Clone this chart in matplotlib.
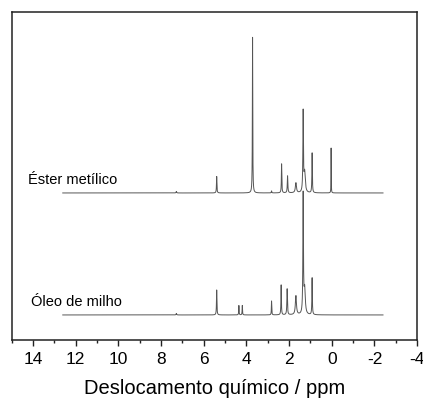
import numpy as np
import matplotlib as mpl
import matplotlib.pyplot as plt
from matplotlib.ticker import MultipleLocator

mpl.rc('font', family='Liberation Sans')
mpl.rcParams['axes.unicode_minus'] = False

# peak positions (ppm) and heights (arbitrary units)
ester_ppm = [7.28, 5.39, 3.71, 2.82, 2.35, 2.07, 1.68, 1.34, 1.27, 0.92, 0.03]
ester_h = [1.5, 16.5, 156.0, 2.0, 29.0, 17.0, 10.0, 80.0, 20.0, 40.0, 45.0]
ester_w = [0.015, 0.012, 0.010, 0.012, 0.012, 0.015, 0.03, 0.015, 0.035, 0.012, 0.006]

oleo_ppm = [7.28, 5.39, 4.35, 4.19, 2.82, 2.37, 2.09, 1.68, 1.34, 1.27, 0.92]
oleo_h = [1.5, 25.0, 9.5, 9.5, 14.0, 30.0, 26.0, 19.0, 119.0, 25.0, 37.0]
oleo_w = [0.015, 0.012, 0.010, 0.010, 0.010, 0.012, 0.015, 0.03, 0.015, 0.035, 0.012]

ester_offset = 147
oleo_offset = 25

labels = ['Éster metílico', 'Óleo de milho']

ppm = np.linspace(12.6, -2.4, 8000)

def spectrum(pos, hgt, wid):
    y = np.zeros_like(ppm)
    for p, h, w in zip(pos, hgt, wid):
        y += h / (1 + ((ppm - p) / w) ** 2)
    return y

fig = plt.figure(figsize=(4.23, 3.99), dpi=100)
ax = fig.add_axes([0.0272, 0.148, 0.959, 0.822])

ax.plot(ppm, spectrum(ester_ppm, ester_h, ester_w) + ester_offset, color='#555555', lw=0.7)
ax.plot(ppm, spectrum(oleo_ppm, oleo_h, oleo_w) + oleo_offset, color='#555555', lw=0.7)

ax.text(14.25, ester_offset + 13, labels[0], fontsize=10.5, va='center', ha='left')
ax.text(14.07, oleo_offset + 13, labels[1], fontsize=10.5, va='center', ha='left')

ax.set_xlim(15, -4)
ax.set_ylim(0, 328)
ax.xaxis.set_major_locator(MultipleLocator(2))
ax.xaxis.set_minor_locator(MultipleLocator(1))
ax.tick_params(axis='x', which='major', direction='out', length=4.5, width=1, labelsize=12.5, color='#222222', pad=4.5)
ax.tick_params(axis='x', which='minor', direction='out', length=2.5, width=1, color='#222222')
ax.set_yticks([])
for s in ax.spines.values():
    s.set_color('#222222')
    s.set_linewidth(1.1)
ax.set_xlabel('Deslocamento químico / ppm', fontsize=14.5, labelpad=8)

fig.savefig('out.png', dpi=100)
